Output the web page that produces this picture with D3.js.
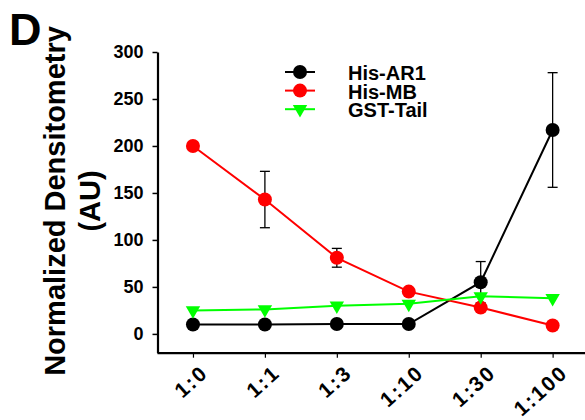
<!DOCTYPE html>
<html>
<head>
<meta charset="utf-8">
<script src="https://cdn.jsdelivr.net/npm/d3@7"></script>
<style>
  body { margin: 0; background: #fff; }
  text { font-family: "Liberation Sans", Arial, sans-serif; font-weight: bold; }
</style>
</head>
<body>
<div id="chart"></div>
<script>
const categories = ["1:0", "1:1", "1:3", "1:10", "1:30", "1:100"];
const ar1Values = [10, 10, 10.5, 10.5, 55, 217];
const ar1Errors = [0, 0, 0, 0, 22, 61];
const mbValues = [200, 143, 81, 45, 28, 9];
const mbErrors = [0, 30, 10, 0, 0, 0];
const tailValues = [25, 26, 30, 32, 40, 38];
const tailErrors = [0, 0, 0, 0, 0, 0];
const yTicks = [0, 50, 100, 150, 200, 250, 300];

const series = [
    { name: "His-AR1", values: ar1Values, errors: ar1Errors, color: "#000000", shape: "circle" },
    { name: "His-MB", values: mbValues, errors: mbErrors, color: "#ff0000", shape: "circle" },
    { name: "GST-Tail", values: tailValues, errors: tailErrors, color: "#00ff00", shape: "triangle" }
];

const W = 585, H = 420;
const svg = d3.select("#chart").append("svg")
    .attr("width", W)
    .attr("height", H);

// scales
let x = d3.scaleLinear().domain([-0.5, 5.45]).range([157, 585]);
let y = d3.scaleLinear().domain([-20, 300]).range([352.7, 52]);

// panel letter
svg.append("text")
    .attr("x", 9)
    .attr("y", 45)
    .style("font-size", "45px")
    .text("D");

// y title
let yTitle = svg.append("g").attr("transform", "translate(0,201) rotate(-90)");
yTitle.append("text")
    .attr("x", 0).attr("y", 65)
    .attr("text-anchor", "middle")
    .style("font-size", "29px")
    .text("Normalized Densitometry");
yTitle.append("text")
    .attr("x", 0).attr("y", 100)
    .attr("text-anchor", "middle")
    .style("font-size", "29px")
    .text("(AU)");

// y axis
let yAxis = svg.append("g")
    .attr("transform", "translate(157.5,0)")
    .call(d3.axisLeft(y).tickValues(yTicks).tickSize(5).tickSizeOuter(0).tickPadding(9));
yAxis.select(".domain").attr("stroke-width", 2.2);
yAxis.selectAll(".tick line").attr("stroke-width", 1.5);
yAxis.selectAll(".tick text")
    .style("font-size", "18px")
    .style("font-family", "Liberation Sans, Arial, sans-serif")
    .style("font-weight", "bold")
    .attr("fill", "#000");

// x axis
let xAxis = svg.append("g")
    .attr("transform", "translate(0,352.7)")
    .call(d3.axisBottom(x).tickValues(d3.range(categories.length))
        .tickFormat(i => categories[i]).tickSize(5).tickSizeOuter(0));
xAxis.select(".domain").attr("stroke-width", 2.2);
xAxis.selectAll(".tick line").attr("stroke-width", 1.2);
xAxis.selectAll(".tick text")
    .style("font-size", "21px")
    .style("letter-spacing", "2px")
    .style("font-family", "Liberation Sans, Arial, sans-serif")
    .style("font-weight", "bold")
    .attr("fill", "#000")
    .style("text-anchor", "end")
    .attr("dy", 0)
    .attr("y", 0)
    .attr("transform", "translate(16,22) rotate(-42)");

const line = d3.line()
    .x((d, i) => x(i))
    .y(d => y(d));

const tri = d3.symbol().type(d3.symbolTriangle).size(90);

function drawMarker(g, s, cx, cy) {
    if (s.shape === "circle") {
        g.append("circle")
            .attr("cx", cx).attr("cy", cy).attr("r", 7)
            .attr("fill", s.color);
    } else {
        g.append("path")
            .attr("d", tri())
            .attr("transform", `translate(${cx},${cy}) rotate(180)`)
            .attr("fill", s.color);
    }
}

series.forEach(s => {
    let g = svg.append("g");

    g.append("path")
        .datum(s.values)
        .attr("d", line)
        .attr("fill", "none")
        .attr("stroke", s.color)
        .attr("stroke-width", 2);

    // error bars
    s.values.forEach((v, i) => {
        let e = s.errors[i];
        if (!e) return;
        let cx = x(i);
        g.append("line")
            .attr("x1", cx).attr("x2", cx)
            .attr("y1", y(v - e)).attr("y2", y(v + e))
            .attr("stroke", "#000").attr("stroke-width", 1.3);
        [v - e, v + e].forEach(t => {
            g.append("line")
                .attr("x1", cx - 5).attr("x2", cx + 5)
                .attr("y1", y(t)).attr("y2", y(t))
                .attr("stroke", "#000").attr("stroke-width", 1.3);
        });
    });

    s.values.forEach((v, i) => drawMarker(g, s, x(i), y(v)));
});

// legend
let legend = svg.append("g").attr("transform", "translate(285,72)");
series.forEach((s, i) => {
    let row = legend.append("g").attr("transform", `translate(0,${i * 18.6})`);
    row.append("line")
        .attr("x1", 0).attr("x2", 30)
        .attr("y1", 0).attr("y2", 0)
        .attr("stroke", s.color).attr("stroke-width", 2);
    drawMarker(row, s, 15, 0);
    row.append("text")
        .attr("x", 63)
        .attr("y", 8)
        .style("font-size", "20px")
        .text(s.name);
});
</script>
</body>
</html>
